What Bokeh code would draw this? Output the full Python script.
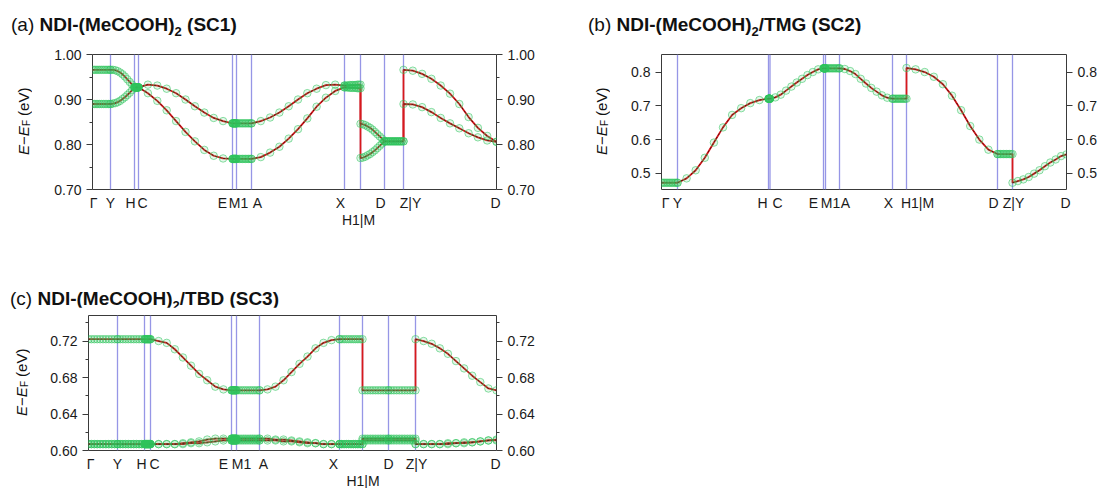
import numpy as np
from bokeh.plotting import figure
from bokeh.models import (FixedTicker, LinearAxis, Span, Range1d, Div,
                          NumeralTickFormatter, CustomJSTickFormatter)
from bokeh.layouts import column, row
from bokeh.embed import file_html
from bokeh.resources import INLINE

FONT = "Liberation Sans"
CSS_FONT = "'Liberation Sans', Arial, Helvetica, sans-serif"
RED = "#d7191c"
VLINE = "#9696e6"
GREEN = "#2fc45c"

# ---------------- Panel (a) NDI-(MeCOOH)2 (SC1) ----------------
A_KPTS = [0.00, 0.18, 0.42, 0.46, 1.40, 1.44, 1.59, 2.52, 2.68, 2.92, 3.11, 4.04]
A_TICK_POS = [0.01, 0.18, 0.38, 0.50, 1.30, 1.46, 1.65, 2.48, 2.88, 3.18, 4.03]
A_TICK_LAB = ["Γ", "Y", "H", "C", "E", "M1", "A", "X", "D", "Z|Y", "D"]
A_TICK2_POS = [2.66]
A_TICK2_LAB = ["H1|M"]
A_YTICKS = [0.70, 0.80, 0.90, 1.00]
A_YMINOR = [0.75, 0.85, 0.95]
A_BAND_UP = [
    [0.966, 0.966, 0.966, 0.966, 0.966, 0.966, 0.966, 0.966, 0.966, 0.966, 0.966],
    [0.966, 0.966, 0.965, 0.963, 0.960, 0.956, 0.951, 0.945, 0.939, 0.933, 0.927],
    [0.927, 0.927, 0.927, 0.927, 0.927, 0.927, 0.927, 0.927, 0.927, 0.927, 0.927],
    [0.927, 0.933, 0.931, 0.924, 0.914, 0.900, 0.885, 0.871, 0.859, 0.852, 0.847],
    [0.847, 0.847, 0.847, 0.847, 0.847, 0.847, 0.847, 0.847, 0.847, 0.847, 0.847],
    [0.847, 0.847, 0.847, 0.847, 0.847, 0.847, 0.847, 0.847, 0.847, 0.847, 0.847],
    [0.847, 0.852, 0.860, 0.871, 0.885, 0.900, 0.914, 0.924, 0.932, 0.933, 0.931],
    [0.931, 0.931, 0.931, 0.932, 0.932, 0.932, 0.932, 0.932, 0.933, 0.933, 0.933],
    [0.846, 0.845, 0.843, 0.840, 0.837, 0.833, 0.828, 0.823, 0.818, 0.813, 0.807],
    [0.807, 0.807, 0.807, 0.807, 0.807, 0.807, 0.807, 0.807, 0.807, 0.807, 0.807],
    [0.966, 0.964, 0.957, 0.946, 0.931, 0.913, 0.890, 0.861, 0.837, 0.819, 0.806],
]
A_BAND_LO = [
    [0.890, 0.890, 0.890, 0.890, 0.890, 0.890, 0.890, 0.890, 0.890, 0.890, 0.890],
    [0.890, 0.891, 0.892, 0.894, 0.897, 0.901, 0.905, 0.910, 0.915, 0.921, 0.927],
    [0.927, 0.927, 0.927, 0.927, 0.927, 0.927, 0.927, 0.927, 0.927, 0.927, 0.927],
    [0.927, 0.914, 0.897, 0.876, 0.852, 0.828, 0.807, 0.788, 0.775, 0.769, 0.768],
    [0.768, 0.768, 0.768, 0.768, 0.768, 0.768, 0.768, 0.768, 0.768, 0.768, 0.768],
    [0.768, 0.768, 0.768, 0.768, 0.768, 0.768, 0.768, 0.768, 0.768, 0.768, 0.768],
    [0.768, 0.772, 0.782, 0.795, 0.813, 0.834, 0.858, 0.884, 0.904, 0.919, 0.927],
    [0.927, 0.927, 0.927, 0.926, 0.926, 0.926, 0.926, 0.926, 0.925, 0.925, 0.925],
    [0.770, 0.771, 0.773, 0.776, 0.779, 0.783, 0.787, 0.792, 0.797, 0.802, 0.807],
    [0.807, 0.807, 0.807, 0.807, 0.807, 0.807, 0.807, 0.807, 0.807, 0.807, 0.807],
    [0.890, 0.889, 0.883, 0.872, 0.859, 0.847, 0.836, 0.825, 0.816, 0.809, 0.806],
]

# ---------------- Panel (b) NDI-(MeCOOH)2/TMG (SC2) ----------------
B_KPTS = [0.00, 0.16, 1.07, 1.085, 1.62, 1.64, 1.78, 2.31, 2.45, 3.36, 3.51, 4.05]
B_TICK_POS = [0.04, 0.16, 1.01, 1.16, 1.52, 1.69, 1.84, 2.27, 2.56, 3.32, 3.52, 4.04]
B_TICK_LAB = ["Γ", "Y", "H", "C", "E", "M1", "A", "X", "H1|M", "D", "Z|Y", "D"]
B_YTICKS = [0.5, 0.6, 0.7, 0.8]
B_YMINOR = []
B_BAND = [
    [0.472, 0.472, 0.472, 0.472, 0.472, 0.472, 0.472, 0.472, 0.472, 0.472, 0.472],
    [0.472, 0.485, 0.509, 0.546, 0.591, 0.636, 0.673, 0.693, 0.708, 0.717, 0.721],
    [0.721, 0.721, 0.721, 0.721, 0.721, 0.721, 0.721, 0.721, 0.721, 0.721, 0.721],
    [0.721, 0.725, 0.733, 0.745, 0.757, 0.769, 0.780, 0.791, 0.800, 0.808, 0.811],
    [0.811, 0.811, 0.811, 0.811, 0.811, 0.811, 0.811, 0.811, 0.811, 0.811, 0.811],
    [0.811, 0.811, 0.811, 0.811, 0.811, 0.811, 0.811, 0.811, 0.811, 0.811, 0.811],
    [0.811, 0.809, 0.803, 0.794, 0.780, 0.766, 0.753, 0.742, 0.731, 0.724, 0.721],
    [0.721, 0.721, 0.721, 0.721, 0.721, 0.721, 0.721, 0.721, 0.721, 0.721, 0.721],
    [0.812, 0.808, 0.800, 0.786, 0.764, 0.730, 0.687, 0.640, 0.600, 0.570, 0.557],
    [0.557, 0.557, 0.557, 0.557, 0.557, 0.557, 0.557, 0.557, 0.557, 0.557, 0.557],
    [0.472, 0.477, 0.482, 0.489, 0.499, 0.509, 0.521, 0.532, 0.541, 0.551, 0.556],
]

# ---------------- Panel (c) NDI-(MeCOOH)2/TBD (SC3) ----------------
C_KPTS = [0.00, 0.29, 0.56, 0.62, 1.43, 1.48, 1.71, 2.51, 2.74, 3.00, 3.27, 4.08]
C_TICK_POS = [0.02, 0.29, 0.53, 0.66, 1.35, 1.53, 1.75, 2.45, 3.00, 3.28, 4.07]
C_TICK_LAB = ["Γ", "Y", "H", "C", "E", "M1", "A", "X", "D", "Z|Y", "D"]
C_TICK2_POS = [2.745]
C_TICK2_LAB = ["H1|M"]
C_YTICKS = [0.60, 0.64, 0.68, 0.72]
C_YMINOR = [0.62, 0.66, 0.70, 0.74]
C_BAND_UP = [
    [0.722, 0.722, 0.722, 0.722, 0.722, 0.722, 0.722, 0.722, 0.722, 0.722, 0.722],
    [0.722, 0.722, 0.722, 0.722, 0.722, 0.722, 0.722, 0.722, 0.722, 0.722, 0.722],
    [0.722, 0.722, 0.722, 0.722, 0.722, 0.722, 0.722, 0.722, 0.722, 0.722, 0.722],
    [0.722, 0.720, 0.718, 0.711, 0.702, 0.693, 0.684, 0.677, 0.670, 0.667, 0.666],
    [0.666, 0.666, 0.666, 0.666, 0.666, 0.666, 0.666, 0.666, 0.666, 0.666, 0.666],
    [0.666, 0.666, 0.666, 0.666, 0.666, 0.666, 0.666, 0.666, 0.666, 0.666, 0.666],
    [0.666, 0.667, 0.670, 0.677, 0.686, 0.695, 0.703, 0.712, 0.718, 0.721, 0.722],
    [0.722, 0.722, 0.722, 0.722, 0.722, 0.722, 0.722, 0.722, 0.722, 0.722, 0.722],
    [0.666, 0.666, 0.666, 0.666, 0.666, 0.666, 0.666, 0.666, 0.666, 0.666, 0.666],
    [0.666, 0.666, 0.666, 0.666, 0.666, 0.666, 0.666, 0.666, 0.666, 0.666, 0.666],
    [0.722, 0.720, 0.717, 0.712, 0.706, 0.698, 0.690, 0.682, 0.675, 0.668, 0.666],
]
C_BAND_MID = [
    [0.607, 0.607, 0.607, 0.607, 0.607, 0.607, 0.607, 0.607, 0.607, 0.607, 0.607],
    [0.607, 0.607, 0.607, 0.607, 0.607, 0.607, 0.607, 0.607, 0.607, 0.607, 0.607],
    [0.607, 0.607, 0.607, 0.607, 0.607, 0.607, 0.607, 0.607, 0.607, 0.607, 0.607],
    [0.607, 0.607, 0.607, 0.607, 0.608, 0.609, 0.610, 0.612, 0.613, 0.613, 0.613],
    [0.613, 0.613, 0.613, 0.613, 0.613, 0.613, 0.613, 0.613, 0.613, 0.613, 0.613],
    [0.613, 0.613, 0.613, 0.613, 0.613, 0.613, 0.613, 0.613, 0.613, 0.613, 0.613],
    [0.613, 0.613, 0.612, 0.612, 0.611, 0.610, 0.609, 0.608, 0.607, 0.607, 0.607],
    [0.607, 0.607, 0.607, 0.607, 0.607, 0.607, 0.607, 0.607, 0.607, 0.607, 0.607],
    [0.613, 0.613, 0.613, 0.613, 0.613, 0.613, 0.613, 0.613, 0.613, 0.613, 0.613],
    [0.613, 0.613, 0.613, 0.613, 0.613, 0.613, 0.613, 0.613, 0.613, 0.613, 0.613],
    [0.607, 0.607, 0.607, 0.607, 0.608, 0.608, 0.609, 0.609, 0.610, 0.611, 0.612],
]
C_BAND_LO = [
    [0.607, 0.607, 0.607, 0.607, 0.607, 0.607, 0.607, 0.607, 0.607, 0.607, 0.607],
    [0.607, 0.607, 0.607, 0.607, 0.607, 0.607, 0.607, 0.607, 0.607, 0.607, 0.607],
    [0.607, 0.607, 0.607, 0.607, 0.607, 0.607, 0.607, 0.607, 0.607, 0.607, 0.607],
    [0.607, 0.607, 0.607, 0.607, 0.607, 0.608, 0.608, 0.609, 0.610, 0.611, 0.611],
    [0.611, 0.611, 0.611, 0.611, 0.611, 0.611, 0.611, 0.611, 0.611, 0.611, 0.611],
    [0.611, 0.611, 0.611, 0.611, 0.611, 0.611, 0.611, 0.611, 0.611, 0.611, 0.611],
    [0.611, 0.611, 0.611, 0.610, 0.610, 0.609, 0.608, 0.608, 0.607, 0.607, 0.607],
    [0.607, 0.607, 0.607, 0.607, 0.607, 0.607, 0.607, 0.607, 0.607, 0.607, 0.607],
    [0.611, 0.611, 0.611, 0.611, 0.611, 0.611, 0.611, 0.611, 0.611, 0.611, 0.611],
    [0.611, 0.611, 0.611, 0.611, 0.611, 0.611, 0.611, 0.611, 0.611, 0.611, 0.611],
    [0.607, 0.607, 0.607, 0.607, 0.607, 0.608, 0.608, 0.609, 0.610, 0.611, 0.611],
]

TITLES = {"a": ("(a)", ""), "b": ("(b)", "/TMG"), "c": ("(c)", "/TBD")}
TAGS = {"a": "(SC1)", "b": "(SC2)", "c": "(SC3)"}


def tick_formatter(pos, lab):
    return CustomJSTickFormatter(args=dict(pos=pos, lab=lab), code="""
        let best = 0, bd = 1e9;
        for (let i = 0; i < pos.length; i++) {
            const d = Math.abs(pos[i] - tick);
            if (d < bd) { bd = d; best = i; }
        }
        return lab[best];
    """)


def seg_data(kpts, segs):
    xs, ys, sxs, sys_ = [], [], [], []
    for i, vals in enumerate(segs):
        kk = np.linspace(kpts[i], kpts[i + 1], len(vals))
        xs.extend(kk.tolist())
        ys.extend(vals)
        sxs.append(kk.tolist())
        sys_.append(list(vals))
    return xs, ys, sxs, sys_


def title_div(key, width, height, pad_left, pad_top):
    tag, mid = TITLES[key]
    html = (f'<div style="padding-left:{pad_left}px; padding-top:{pad_top}px; '
            f'font-family:{CSS_FONT}; font-size:19px; line-height:19px; color:#111; '
            f'white-space:nowrap;">{tag} <b>NDI-(MeCOOH)<span style="font-size:13px; '
            f'position:relative; top:5px;">2</span>{mid} {TAGS[key]}</b></div>')
    return Div(text=html, width=width, height=height, margin=(0, 0, 0, 0))


def ylab_div(width, height, box_left, box_top, box_h):
    html = (f'<div style="margin-left:{box_left}px; margin-top:{box_top}px; width:18px; '
            f'height:{box_h}px; writing-mode:vertical-rl; transform:rotate(180deg); '
            f'font-family:{CSS_FONT}; font-size:15px; line-height:18px; text-align:center; '
            f'white-space:nowrap; color:#111;"><i>E</i>\u2212<i>E</i><span '
            f'style="font-size:10px; position:relative; left:-3px;">F</span> (eV)</div>')
    return Div(text=html, width=width, height=height, margin=(0, 0, 0, 0))


def make_panel(kpts, bands, yr, yticks, yminor, yfmt, fw, fh, bl, br, bt, bb,
               tpos, tlab, t2pos, t2lab):
    x0, x1 = kpts[0], kpts[-1]
    y0, y1 = yr
    p = figure(frame_width=fw, frame_height=fh, min_border_left=bl, min_border_right=br,
               min_border_top=bt, min_border_bottom=bb,
               x_range=Range1d(x0, x1), y_range=Range1d(y0, y1),
               x_axis_location=None, y_axis_location=None,
               output_backend="svg", toolbar_location=None)
    p.xgrid.visible = False
    p.ygrid.visible = False
    p.outline_line_color = "#3a3a3a"
    p.outline_line_width = 1
    p.background_fill_color = "white"
    p.border_fill_color = "white"

    for loc in ("left", "right"):
        ax = LinearAxis(ticker=FixedTicker(ticks=yticks, minor_ticks=yminor),
                        formatter=NumeralTickFormatter(format=yfmt))
        ax.axis_line_color = None
        ax.major_tick_line_color = "#3a3a3a"
        ax.minor_tick_line_color = "#3a3a3a"
        ax.major_tick_out = 6
        ax.major_tick_in = 0
        ax.minor_tick_out = 3
        ax.minor_tick_in = 0
        ax.major_label_standoff = 5
        ax.major_label_text_font = FONT
        ax.major_label_text_font_size = "14px"
        ax.major_label_text_color = "#1a1a1a"
        p.add_layout(ax, loc)

    rows = [(tpos, tlab, 5)]
    if t2pos:
        rows.append((t2pos, t2lab, -2))
    for pos, lab, standoff in rows:
        ax = LinearAxis(ticker=FixedTicker(ticks=pos, minor_ticks=[]),
                        formatter=tick_formatter(pos, lab))
        ax.axis_line_color = None
        ax.major_tick_line_color = None
        ax.minor_tick_line_color = None
        ax.major_tick_in = 0
        ax.major_tick_out = 0
        ax.major_label_standoff = standoff
        ax.major_label_text_font = FONT
        ax.major_label_text_font_size = "14px"
        ax.major_label_text_color = "#1a1a1a"
        p.add_layout(ax, "below")

    for k in kpts[1:-1]:
        p.add_layout(Span(location=k, dimension="height", line_color=VLINE,
                          line_width=1.3, level="underlay"))

    data = [seg_data(kpts, b) for b in bands]
    for xs, ys, sxs, sys_ in data:
        p.line(xs, ys, line_color=RED, line_width=1.8)
    for xs, ys, sxs, sys_ in data:
        p.multi_line(sxs, sys_, line_color="black", line_width=1, line_dash="2 2",
                     line_alpha=0.6)
    for xs, ys, sxs, sys_ in data:
        p.scatter(xs, ys, marker="circle", size=7.5, line_color=GREEN, line_alpha=0.55,
                  line_width=1, fill_color=GREEN, fill_alpha=0.13)
    return p


# panel (a): page x 0..552, frame at x 92..496, y 54..189
pa = make_panel(A_KPTS, [A_BAND_UP, A_BAND_LO], (0.70, 1.00), A_YTICKS, A_YMINOR, "0.00",
                404, 135, 52, 56, 14, 56, A_TICK_POS, A_TICK_LAB, A_TICK2_POS, A_TICK2_LAB)
# panel (b): page x 552..1100, frame at x 661..1066
pb = make_panel(B_KPTS, [B_BAND], (0.452, 0.852), B_YTICKS, B_YMINOR, "0.0",
                405, 135, 45, 34, 14, 56, B_TICK_POS, B_TICK_LAB, [], [])
# panel (c): frame at x 88..496, y 315..450
pc = make_panel(C_KPTS, [C_BAND_UP, C_BAND_MID, C_BAND_LO], (0.60, 0.748), C_YTICKS,
                C_YMINOR, "0.00", 408, 135, 48, 56, 8, 38, C_TICK_POS, C_TICK_LAB,
                C_TICK2_POS, C_TICK2_LAB)

col_a = column(title_div("a", 552, 40, 11, 15),
               row(ylab_div(40, 205, 15, 14, 135), pa))
col_b = column(title_div("b", 548, 40, 36, 15),
               row(ylab_div(64, 205, 41, 14, 135), pb))
col_c = column(title_div("c", 552, 62, 10, 44),
               row(ylab_div(40, 181, 13, 8, 135), pc))

layout = column(row(col_a, col_b), col_c)
open("out.html", "w").write(file_html(layout, INLINE))
